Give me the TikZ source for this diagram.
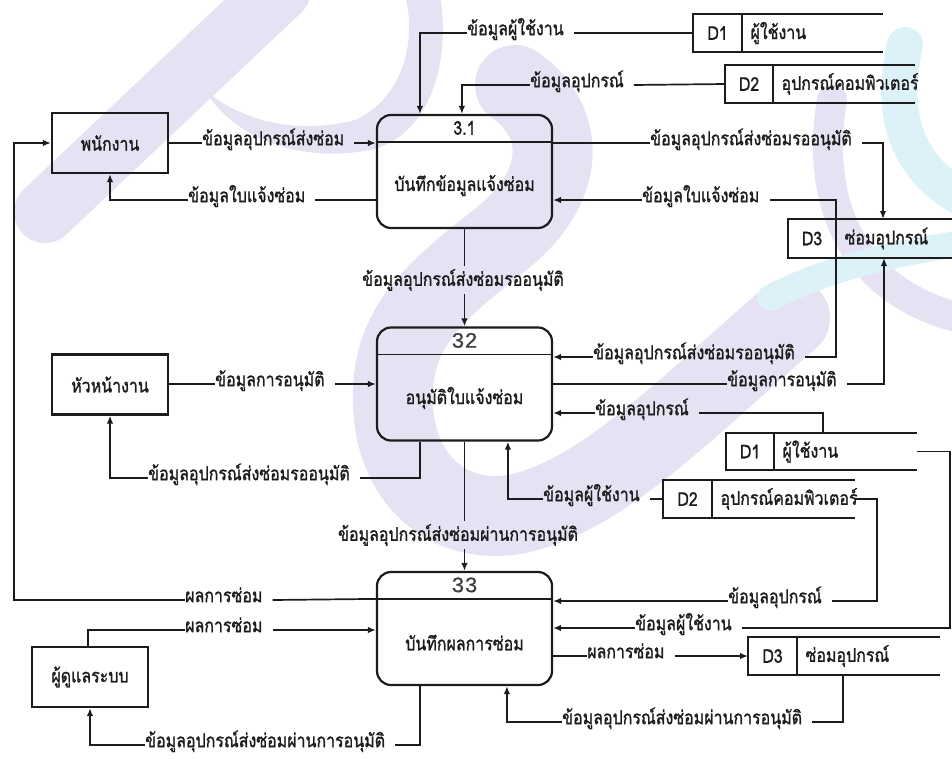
\documentclass[tikz,border=0pt]{standalone}
\usepackage{fontspec}
\newfontfamily\thaifont[Script=Thai, FakeStretch=0.84, FakeBold=1.2]{Loma}
\newfontfamily\numfont[FakeBold=0.5]{Liberation Mono}
\usetikzlibrary{arrows.meta,calc}

\definecolor{wmpurple}{RGB}{231,226,243}
\definecolor{wmblue}{RGB}{221,241,249}
\definecolor{ink}{RGB}{28,28,28}

\tikzset{
  base/.style={font=\thaifont\fontsize{19}{22}\selectfont, text=ink},
  entity/.style={base, draw=ink, line width=2.2pt, minimum width=116pt,
    minimum height=60pt, inner sep=0pt},
  proc/.style={draw=ink, line width=2.2pt, rounded corners=14pt,
    minimum width=175pt, minimum height=113pt, inner sep=0pt},
  conn/.style={draw=ink, line width=1.7pt},
  flow/.style={conn, -{Latex[length=8pt,width=6.5pt]}},
  lbl/.style={base, inner xsep=0pt, inner ysep=1pt, anchor=mid west},
  vlbl/.style={base, inner xsep=2pt, inner ysep=3pt},
  procno/.style={font=\numfont\fontsize{22}{24}\selectfont, text=ink!85},
  wm/.style={line cap=round, line join=round},
}

% data store: name, left, top, bottom, id-cell width, right end, id, title
\newcommand\datastore[8]{%
  \node[minimum width={#6-#2}, minimum height={#4-#3}, inner sep=0pt,
        outer sep=0pt, anchor=north west] (#1) at (#2,#3) {};
  \draw[conn, line width=2pt] (#1.north east) -- (#1.north west)
     -- (#1.south west) -- (#1.south east);
  \draw[conn, line width=2pt] ($(#1.north west)+(#5,0)$) -- ($(#1.south west)+(#5,0)$);
  \node[base] (#1-id) at ($(#1.west)+({#5/2},0)$) {#7};
  \node[base, anchor=west] (#1-name) at ($(#1.west)+({#5+5},0)$) {#8};
}

\begin{document}
\begin{tikzpicture}[x=1pt,y=-1pt]
\useasboundingbox (0,0) rectangle (952,758);
\fill[white] (0,0) rectangle (952,758);

% ---- watermark logo strokes ----
\draw[wm, wmpurple, line width=62pt] (45,212) -- (280,-10);
\fill[wmpurple] (203,88) .. controls (235,140) and (300,163) .. (370,150)
  .. controls (425,138) and (452,70) .. (440,-5) -- (405,-5)
  .. controls (418,45) and (400,100) .. (355,120)
  .. controls (300,135) and (240,122) .. cycle;
\draw[wm, wmpurple, line width=80pt] (515,85) .. controls (565,120) and (570,185) .. (500,240)
  .. controls (430,295) and (390,330) .. (393,405)
  .. controls (396,485) and (455,530) .. (525,512)
  .. controls (610,490) and (700,395) .. (790,318);
\draw[wm, wmpurple, line width=30pt] (832,100) .. controls (815,200) and (850,290) .. (960,318);
\draw[wm, wmblue, line width=36pt] (905,45) .. controls (888,120) and (910,170) .. (965,200);
\draw[wm, wmblue, line width=26pt] (770,298) .. controls (820,272) and (880,255) .. (965,243);

% ---- external entities ----
\node[entity] (emp) at (110,143) {พนักงาน};
\node[entity] (head) at (110,384.5) {หัวหน้างาน};
\node[entity] (admin) at (90,677) {ผู้ดูแลระบบ};

% ---- processes ----
\node[proc] (p1) at (464.5,171.5) {};
\node[proc] (p2) at (464.5,384) {};
\node[proc] (p3) at (464.5,628.5) {};
\foreach \p in {p1,p2,p3}
  \draw[conn] ($(\p.north west)+(0,28)$) -- ($(\p.north east)+(0,28)$);
\node[base] (p1-no) at ($(p1.north)+(0,14)$) {3.1};
\node[procno] (p2-no) at ($(p2.north)+(0,14)$) {32};
\node[procno] (p3-no) at ($(p3.north)+(0,14)$) {33};
\node[base] (p1-t) at ($(p1.center)+(0,14)$) {บันทึกข้อมูลแจ้งซ่อม};
\node[base] (p2-t) at ($(p2.center)+(0,14)$) {อนุมัติใบแจ้งซ่อม};
\node[base] (p3-t) at ($(p3.center)+(0,14)$) {บันทึกผลการซ่อม};

% ---- data stores ----
\datastore{d1a}{693}{14}{52}{49}{883}{D1}{ผู้ใช้งาน}
\datastore{d2a}{725}{65}{103}{48}{915}{D2}{อุปกรณ์คอมพิวเตอร์}
\datastore{d3a}{788}{219}{258}{48}{960}{D3}{ซ่อมอุปกรณ์}
\datastore{d1b}{726}{433}{470}{48}{917}{D1}{ผู้ใช้งาน}
\datastore{d2b}{663}{480}{518}{49}{855}{D2}{อุปกรณ์คอมพิวเตอร์}
\datastore{d3b}{748}{637}{675}{49}{940}{D3}{ซ่อมอุปกรณ์}

% ---- flow labels ----
\node[lbl] (f1) at (467,33) {ข้อมูลผู้ใช้งาน};
\node[lbl] (f2) at (530,85) {ข้อมูลอุปกรณ์};
\node[lbl] (f3) at (202,143) {ข้อมูลอุปกรณ์ส่งซ่อม};
\node[lbl] (f4) at (188,200) {ข้อมูลใบแจ้งซ่อม};
\node[lbl] (f5) at (650,143) {ข้อมูลอุปกรณ์ส่งซ่อมรออนุมัติ};
\node[lbl] (f6) at (642,200) {ข้อมูลใบแจ้งซ่อม};
\node[vlbl] (f7) at (463,280) {ข้อมูลอุปกรณ์ส่งซ่อมรออนุมัติ};
\node[lbl] (f8) at (215,384) {ข้อมูลการอนุมัติ};
\node[lbl] (f9) at (148,478) {ข้อมูลอุปกรณ์ส่งซ่อมรออนุมัติ};
\node[lbl] (f10) at (593,357) {ข้อมูลอุปกรณ์ส่งซ่อมรออนุมัติ};
\node[lbl] (f11) at (727,384) {ข้อมูลการอนุมัติ};
\node[lbl] (f12) at (595,413) {ข้อมูลอุปกรณ์};
\node[lbl] (f13) at (543,499) {ข้อมูลผู้ใช้งาน};
\node[vlbl] (f14) at (458,535) {ข้อมูลอุปกรณ์ส่งซ่อมผ่านการอนุมัติ};
\node[lbl] (f15) at (185,600) {ผลการซ่อม};
\node[lbl] (f16) at (185,630) {ผลการซ่อม};
\node[lbl] (f17) at (728,601) {ข้อมูลอุปกรณ์};
\node[lbl] (f18) at (635,628) {ข้อมูลผู้ใช้งาน};
\node[lbl] (f19) at (587,656) {ผลการซ่อม};
\node[lbl] (f20) at (562,722) {ข้อมูลอุปกรณ์ส่งซ่อมผ่านการอนุมัติ};
\node[lbl] (f21) at (145,745) {ข้อมูลอุปกรณ์ส่งซ่อมผ่านการอนุมัติ};

% ---- bend points ----
\coordinate (rail) at (14,143);
\coordinate (k17) at (877,601);
\coordinate (k18) at (950,628);

% ---- data flows ----
% D1 -> 3.1
\draw[conn] (d1a.west) -- ([xshift=10pt]f1.mid east);
\draw[flow] (f1.mid west) -| ($(p1.north west)+(44,0)$);
% D2 -> 3.1
\draw[conn] (d2a.west) -- ([xshift=10pt]f2.mid east);
\draw[flow] (f2.mid west) -| ($(p1.north west)+(86,0)$);
% staff <-> 3.1
\draw[conn] (emp.east) -- (f3.mid west);
\draw[flow] ([xshift=10pt]f3.mid east) -- (p1.west |- f3.mid);
\draw[conn] (p1.west |- f4.mid) -- ([xshift=10pt]f4.mid east);
\draw[flow] (f4.mid west) -| (emp.south);
% 3.1 <-> D3
\draw[conn] (p1.east |- f5.mid) -- (f5.mid west);
\draw[flow] ([xshift=10pt]f5.mid east) -| ($(d3a.north west)+(95,0)$);
\draw[conn] ($(d3a.north west)+(48,0)$) |- ([xshift=10pt]f6.mid east);
\draw[flow] (f6.mid west) -- (p1.east |- f6.mid);
% 3.1 -> 3.2
\draw[conn] (p1.south) -- (p1.south |- f7.north);
\draw[flow] (p1.south |- f7.south) -- (p2.north);
% head <-> 3.2
\draw[conn] (head.east |- f8.mid) -- (f8.mid west);
\draw[flow] ([xshift=10pt]f8.mid east) -- (p2.west |- f8.mid);
\draw[conn] ($(p2.south west)+(44,0)$) |- ([xshift=10pt]f9.mid east);
\draw[flow] (f9.mid west) -| (head.south);
% D3 <-> 3.2
\draw[conn] ($(d3a.south west)+(48,0)$) |- ([xshift=10pt]f10.mid east);
\draw[flow] (f10.mid west) -- (p2.east |- f10.mid);
\draw[conn] (p2.east |- f11.mid) -- (f11.mid west);
\draw[flow] ([xshift=10pt]f11.mid east) -| ($(d3a.south west)+(96,0)$);
% D1, D2 -> 3.2
\draw[conn] ($(d1b.north west)+(97,0)$) |- ([xshift=10pt]f12.mid east);
\draw[flow] (f12.mid west) -- (p2.east |- f12.mid);
\draw[conn] (d2b.west) -- ([xshift=10pt]f13.mid east);
\draw[flow] (f13.mid west) -| ($(p2.south west)+(132,0)$);
% 3.2 -> 3.3
\draw[conn] (p2.south) -- (p2.south |- f14.north);
\draw[flow] (p2.south |- f14.south) -- (p3.north);
% 3.3 -> staff
\draw[conn] ($(p3.north west)+(0,28)$) -- ([xshift=10pt]f15.mid east);
\draw[flow] (f15.mid west) -| (rail) -- (emp.west);
% admin <-> 3.3
\draw[conn] ($(admin.north west)+(57,0)$) |- (f16.mid west);
\draw[flow] ([xshift=10pt]f16.mid east) -- (p3.west |- f16.mid);
\draw[conn] ($(p3.south west)+(44,0)$) |- ([xshift=10pt]f21.mid east);
\draw[flow] (f21.mid west) -| (admin.south);
% D2, D1 -> 3.3
\draw[conn] (d2b.east) -| (k17) -- ([xshift=10pt]f17.mid east);
\draw[flow] (f17.mid west) -- (p3.east |- f17.mid);
\draw[conn] (d1b.east) -| (k18) -- ([xshift=10pt]f18.mid east);
\draw[flow] (f18.mid west) -- (p3.east |- f18.mid);
% 3.3 <-> D3
\draw[conn] (p3.east |- f19.mid) -- (f19.mid west);
\draw[flow] ([xshift=10pt]f19.mid east) -- (d3b.west |- f19.mid);
\draw[conn] ($(d3b.south west)+(95,0)$) |- ([xshift=10pt]f20.mid east);
\draw[flow] (f20.mid west) -| ($(p3.south west)+(131,0)$);
\end{tikzpicture}
\end{document}
